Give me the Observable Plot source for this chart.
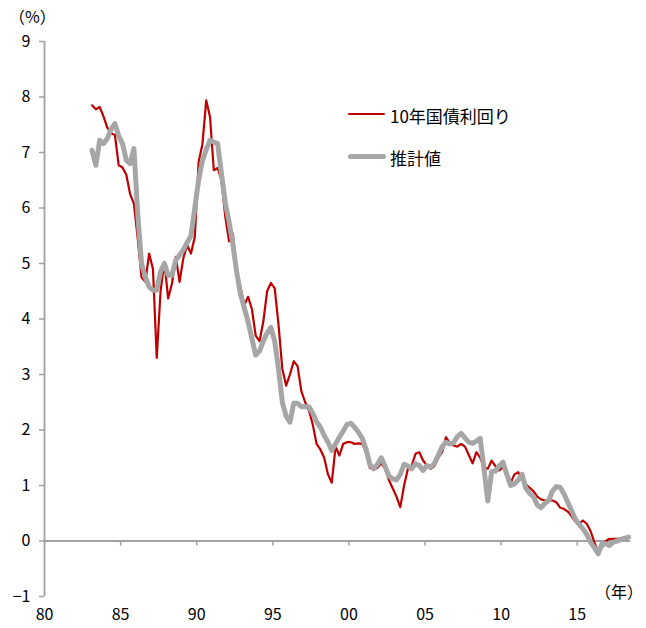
<!DOCTYPE html>
<html lang="ja">
<head>
<meta charset="utf-8">
<script src="https://cdn.jsdelivr.net/npm/d3@7"></script>
<script src="https://cdn.jsdelivr.net/npm/@observablehq/plot@0.6"></script>
<style>
  html, body { margin: 0; padding: 0; background: #fff; }
  #chart { position: relative; width: 646px; height: 628px; font-family: "Noto Sans CJK JP", sans-serif; color: #000; }
  #chart svg { position: absolute; left: 0; top: 0; }
  .note { position: absolute; font-size: 16px; line-height: 1; white-space: nowrap; transform: translateY(-50%); }
  .swatch { position: absolute; }
</style>
</head>
<body>
<div id="chart"></div>
<script>
// Quarterly series, first value = 1983 Q1
const startYear = 1983;

// 10-year JGB yield (%)
const jgb10y = [
  7.85, 7.78, 7.82, 7.65,   // 1983
  7.45, 7.34, 7.32, 6.77,   // 1984
  6.73, 6.60, 6.25, 6.08,   // 1985
  5.45, 4.75, 4.67, 5.18,   // 1986
  4.90, 3.30, 4.50, 5.03,   // 1987
  4.37, 4.64, 5.12, 4.67,   // 1988
  5.10, 5.33, 5.18, 5.48,   // 1989
  6.83, 7.15, 7.94, 7.64,   // 1990
  6.68, 6.72, 6.50, 5.85,   // 1991
  5.40, 5.54, 4.88, 4.58,   // 1992
  4.25, 4.40, 4.18, 3.70,   // 1993
  3.60, 3.95, 4.50, 4.65,   // 1994
  4.55, 3.90, 3.10, 2.80,   // 1995
  3.00, 3.24, 3.15, 2.70,   // 1996
  2.50, 2.35, 2.10, 1.75,   // 1997
  1.65, 1.50, 1.20, 1.05,   // 1998
  1.70, 1.54, 1.75, 1.78,   // 1999
  1.78, 1.75, 1.76, 1.75,   // 2000
  1.60, 1.32, 1.29, 1.32,   // 2001
  1.40, 1.30, 1.10, 0.95,   // 2002
  0.80, 0.61, 1.00, 1.30,   // 2003
  1.36, 1.57, 1.60, 1.45,   // 2004
  1.36, 1.30, 1.35, 1.50,   // 2005
  1.60, 1.87, 1.77, 1.72,   // 2006
  1.70, 1.75, 1.70, 1.55,   // 2007
  1.40, 1.60, 1.50, 1.33,   // 2008
  1.30, 1.45, 1.35, 1.27,   // 2009
  1.33, 1.20, 1.05, 1.20,   // 2010
  1.24, 1.12, 1.02, 0.96,   // 2011
  0.90, 0.80, 0.75, 0.73,   // 2012
  0.73, 0.73, 0.70, 0.60,   // 2013
  0.58, 0.53, 0.45, 0.35,   // 2014
  0.31, 0.37, 0.31, 0.18,   // 2015
  -0.02, -0.20, -0.12, 0.00, // 2016
  0.04, 0.04, 0.04, 0.05,   // 2017
  0.05, 0.07                // 2018
];

// Model estimate (%)
const estimate = [
  7.04, 6.77, 7.22, 7.16,   // 1983
  7.25, 7.42, 7.52, 7.30,   // 1984
  7.16, 6.86, 6.80, 7.07,   // 1985
  5.90, 5.00, 4.75, 4.58,   // 1986
  4.52, 4.52, 4.85, 5.00,   // 1987
  4.79, 4.79, 5.06, 5.15,   // 1988
  5.25, 5.38, 5.50, 6.00,   // 1989
  6.50, 6.85, 7.05, 7.22,   // 1990
  7.19, 7.16, 6.62, 6.10,   // 1991
  5.75, 5.35, 4.85, 4.45,   // 1992
  4.20, 3.95, 3.65, 3.35,   // 1993
  3.42, 3.60, 3.75, 3.85,   // 1994
  3.60, 3.10, 2.50, 2.25,   // 1995
  2.14, 2.48, 2.48, 2.42,   // 1996
  2.42, 2.42, 2.30, 2.15,   // 1997
  2.05, 1.90, 1.78, 1.63,   // 1998
  1.75, 1.87, 1.98, 2.10,   // 1999
  2.12, 2.05, 1.96, 1.85,   // 2000
  1.65, 1.38, 1.30, 1.38,   // 2001
  1.50, 1.35, 1.17, 1.12,   // 2002
  1.10, 1.20, 1.38, 1.35,   // 2003
  1.30, 1.39, 1.36, 1.27,   // 2004
  1.36, 1.33, 1.40, 1.55,   // 2005
  1.70, 1.78, 1.75, 1.77,   // 2006
  1.88, 1.94, 1.86, 1.78,   // 2007
  1.76, 1.80, 1.85, 1.30,   // 2008
  0.72, 1.25, 1.26, 1.35,   // 2009
  1.42, 1.20, 1.00, 1.03,   // 2010
  1.10, 1.20, 0.95, 0.86,   // 2011
  0.80, 0.65, 0.60, 0.68,   // 2012
  0.73, 0.90, 0.98, 0.97,   // 2013
  0.85, 0.70, 0.55, 0.40,   // 2014
  0.30, 0.22, 0.12, -0.02,  // 2015
  -0.12, -0.23, -0.05, -0.05, // 2016
  -0.08, -0.02, 0.00, 0.03, // 2017
  0.05, 0.07                // 2018
];

const seriesNames = ["10年国債利回り", "推計値"];
const seriesColors = ["#c00000", "#a6a6a6"];
const xTicks = [1980, 1985, 1990, 1995, 2000, 2005, 2010, 2015];
const xTickLabels = ["80", "85", "90", "95", "00", "05", "10", "15"];
const yTicks = [-1, 0, 1, 2, 3, 4, 5, 6, 7, 8, 9];
const yUnit = "（%）";
const xUnit = "（年）";

// quarter midpoints on a decimal-year axis
const toRows = (values) => values.map((v, i) => ({ t: startYear + 0.125 + i * 0.25, v }));
const jgbRows = toRows(jgb10y);
const estRows = toRows(estimate);

const axisGray = "#a0a0a0";

const chart = Plot.plot({
  width: 646,
  height: 628,
  marginLeft: 44,
  marginRight: 16,
  marginTop: 41,
  marginBottom: 32,
  style: { fontFamily: "'Noto Sans CJK JP', sans-serif", fontSize: "16px", color: "#000", background: "#fff" },
  x: { domain: [1980, 2018.5] },
  y: { domain: [-1, 9] },
  marks: [
    Plot.axisY({ ticks: yTicks, tickSize: 5, tickPadding: 9, stroke: axisGray, strokeWidth: 1.5, label: null }),
    Plot.axisX({ ticks: xTicks, tickSize: 0, tickPadding: 12, tickFormat: (d) => xTickLabels[xTicks.indexOf(d)], label: null }),
    Plot.ruleX([1980], { stroke: axisGray, strokeWidth: 1.8 }),
    Plot.ruleY([0], { stroke: axisGray, strokeWidth: 1.8 }),
    Plot.ruleX(xTicks.slice(1), { x: (d) => d, y1: 0, y2: 0, insetBottom: -5, stroke: axisGray, strokeWidth: 1.5 }),
    Plot.line(jgbRows, { x: "t", y: "v", stroke: seriesColors[0], strokeWidth: 2.2, strokeLinejoin: "round" }),
    Plot.line(estRows, { x: "t", y: "v", stroke: seriesColors[1], strokeWidth: 5, strokeLinejoin: "round", strokeLinecap: "round" })
  ]
});

const root = document.getElementById("chart");
root.appendChild(chart);

function addNote(text, pos, size) {
  const el = document.createElement("div");
  el.className = "note";
  el.textContent = text;
  for (const k of Object.keys(pos)) el.style[k] = pos[k] + "px";
  if (size) el.style.fontSize = size + "px";
  root.appendChild(el);
}
function addSwatch(color, left, top, w, h) {
  const el = document.createElement("div");
  el.className = "swatch";
  Object.assign(el.style, { left: left + "px", top: (top - h / 2) + "px", width: w + "px", height: h + "px", background: color, borderRadius: (h / 2) + "px" });
  root.appendChild(el);
}

// unit labels
addNote(yUnit, { left: 9, top: 16 }, 16);
addNote(xUnit, { right: 3, top: 591 }, 16);

// legend
addSwatch(seriesColors[0], 348, 114, 37, 2.2);
addNote(seriesNames[0], { left: 390, top: 115 }, 17);
addSwatch(seriesColors[1], 348, 156, 38, 5);
addNote(seriesNames[1], { left: 390, top: 157 }, 17);
</script>
</body>
</html>
